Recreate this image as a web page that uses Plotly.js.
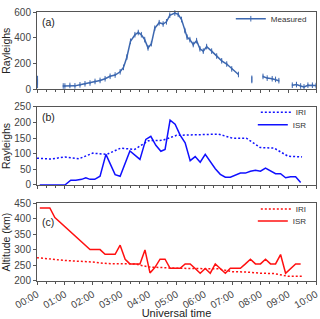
<!DOCTYPE html>
<html><head><meta charset="utf-8">
<script src="https://cdn.plot.ly/plotly-3.0.1.min.js"></script>
<style>html,body{margin:0;padding:0;background:#fff}#chart{width:320px;height:319px}</style>
</head><body><div id="chart"></div>
<script>
// Panel (a): measured brightness (hours UT, Rayleighs), null = data gap
var measTime = [0.02, 0.50, 0.94, 1.00, 1.18, 1.36, 1.54, 1.72, 1.90, 2.08, 2.26, 2.44, 2.62, 2.80, 2.98, 3.10, 3.22, 3.35, 3.51, 3.63, 3.74, 3.86, 3.98, 4.10, 4.22, 4.38, 4.52, 4.64, 4.76, 4.94, 5.06, 5.18, 5.30, 5.38, 5.48, 5.60, 5.72, 5.84, 5.96, 6.08, 6.26, 6.44, 6.62, 6.80, 6.98, 7.22, 7.45, 7.70, 7.90, 8.10, 8.25, 8.43, 8.55, 8.67, 8.90, 9.15, 9.30, 9.45, 9.57, 9.71, 9.87, 10.00];
var measValue = [58, null, 27, 27, 31, 28, 36, 44, 50, 62, 70, 83, 102, 112, 137, 171, 250, 373, 424, 441, 424, 386, 322, 355, 474, 517, 507, 524, 575, 592, 582, 542, 456, 405, 386, 348, 378, 315, 297, 332, 297, 259, 222, 197, 159, 116, null, 78, null, 101, 88, 83, 78, 68, null, 33, 38, 27, 20, 33, 33, 30];
var measError = [48, 0, 8, 8, 8, 8, 8, 8, 8, 8, 8, 8, 8, 8, 8, 8, 10, 10, 10, 10, 10, 10, 10, 10, 10, 10, 10, 10, 10, 10, 10, 10, 12, 12, 12, 12, 12, 12, 12, 12, 10, 10, 10, 10, 10, 8, 0, 30, 0, 8, 8, 8, 8, 8, 0, 8, 18, 8, 8, 8, 8, 8];

// Panel (b): brightness, IRI model vs ISR
var iriTimeB = [0.0, 0.5, 1.0, 1.5, 2.0, 2.5, 3.0, 3.5, 4.0, 4.5, 5.0, 5.5, 6.0, 6.5, 7.0, 7.5, 8.0, 8.5, 9.0, 9.5];
var iriBright = [86, 83, 90, 84, 102, 98, 118, 114, 142, 143, 159, 161, 161, 163, 150, 150, 120, 118, 92, 90];
var isrTimeB = [0.10, 1.00, 1.21, 1.39, 1.60, 1.75, 1.90, 2.07, 2.26, 2.47, 2.80, 2.98, 3.33, 3.51, 3.69, 3.90, 4.08, 4.26, 4.44, 4.59, 4.77, 4.95, 5.13, 5.31, 5.49, 5.67, 5.85, 6.03, 6.21, 6.39, 6.57, 6.75, 6.93, 7.11, 7.29, 7.47, 7.65, 7.83, 8.01, 8.19, 8.37, 8.55, 8.73, 8.91, 9.09, 9.27, 9.45];
var isrBright = [0, 0, 15, 15, 18, 23, 18, 18, 28, 98, 33, 28, 109, 96, 82, 146, 156, 127, 108, 114, 208, 195, 160, 135, 78, 91, 73, 98, 75, 52, 34, 25, 25, 31, 38, 38, 44, 47, 44, 54, 45, 36, 36, 23, 26, 26, 8];

// Panel (c): altitude (km), IRI model vs ISR
var iriTimeC = [0.0, 1.0, 2.0, 2.5, 3.5, 4.0, 5.0, 6.0, 6.5, 7.0, 7.5, 8.0, 8.5, 9.0, 9.5];
var iriAlt = [275, 266, 261, 256, 255, 245, 241, 240, 239, 230, 229, 225, 224, 215, 215];
var isrTimeC = [0.10, 0.46, 0.64, 1.90, 2.26, 2.44, 2.80, 2.98, 3.16, 3.33, 3.69, 3.87, 4.05, 4.23, 4.41, 4.59, 4.77, 5.13, 5.31, 5.49, 5.67, 5.85, 6.03, 6.21, 6.39, 6.57, 6.75, 6.93, 7.29, 7.47, 7.65, 7.83, 8.01, 8.19, 8.37, 8.55, 8.73, 8.91, 9.09, 9.27, 9.45];
var isrAlt = [435, 435, 404, 301, 301, 286, 286, 315, 270, 255, 255, 300, 226, 244, 270, 270, 241, 241, 255, 255, 240, 225, 240, 225, 255, 241, 225, 241, 241, 255, 270, 255, 255, 270, 255, 255, 285, 225, 241, 255, 255];

var hourTicks = [0, 1, 2, 3, 4, 5, 6, 7, 8, 9, 10];
var hourLabels = ['00:00', '01:00', '02:00', '03:00', '04:00', '05:00', '06:00', '07:00', '08:00', '09:00', '10:00'];

var FONT = 'Liberation Sans, Arial, sans-serif';
var AX = '#555';
function xax(anchor, labels) {
  return {
    anchor: anchor, range: [0, 10], tickmode: 'array', tickvals: hourTicks, ticktext: hourLabels,
    showticklabels: labels, tickangle: -30, ticks: 'outside', ticklen: 3, tickcolor: AX,
    minor: {tickmode: 'linear', tick0: 0, dtick: 1/3, ticks: 'outside', ticklen: 2, tickcolor: AX},
    showline: true, linecolor: AX, linewidth: 1, mirror: true, showgrid: false, zeroline: false,
    tickfont: {size: 10, color: '#444', family: FONT},
    title: labels ? {text: 'Universal time', font: {size: 11, color: '#222', family: FONT}, standoff: 4} : {text: ''}
  };
}
function yax(anchor, dom, range, dtick, title) {
  return {
    anchor: anchor, domain: dom, range: range, dtick: dtick, ticks: 'outside', ticklen: 3, tickcolor: AX,
    showline: true, linecolor: AX, linewidth: 1, mirror: true, showgrid: false, zeroline: false,
    tickfont: {size: 10, color: '#444', family: FONT},
    title: {text: title, font: {size: 10.5, color: '#222', family: FONT}, standoff: 3}
  };
}

var BLUE = '#1010ff', RED = '#ff1010', STEEL = '#3d68b0';
var traces = [
  {x: measTime, y: measValue, xaxis: 'x', yaxis: 'y', type: 'scatter', mode: 'lines+markers', name: 'Measured',
   line: {color: STEEL, width: 1.5}, cliponaxis: false,
   marker: {symbol: 'line-ns-open', size: 4, color: STEEL, line: {color: STEEL, width: 1}},
   error_y: {type: 'data', array: measError, visible: true, color: STEEL, thickness: 1, width: 0},
   legend: 'legend'},
  {x: iriTimeB, y: iriBright, xaxis: 'x2', yaxis: 'y2', type: 'scatter', mode: 'lines', name: 'IRI',
   line: {color: BLUE, width: 1.5, dash: '2px,2px'}, legend: 'legend2'},
  {x: isrTimeB, y: isrBright, xaxis: 'x2', yaxis: 'y2', type: 'scatter', mode: 'lines', name: 'ISR',
   line: {color: BLUE, width: 1.5}, legend: 'legend3'},
  {x: iriTimeC, y: iriAlt, xaxis: 'x3', yaxis: 'y3', type: 'scatter', mode: 'lines', name: 'IRI',
   line: {color: RED, width: 1.5, dash: '2px,2px'}, legend: 'legend4'},
  {x: isrTimeC, y: isrAlt, xaxis: 'x3', yaxis: 'y3', type: 'scatter', mode: 'lines', name: 'ISR',
   line: {color: RED, width: 1.5}, legend: 'legend5'}
];

function leg(y) {
  return {x: 0.985, y: y, xanchor: 'right', yanchor: 'middle', bgcolor: 'rgba(0,0,0,0)',
          font: {size: 8, color: '#333', family: FONT}, itemwidth: 30};
}

var layout = {
  width: 320, height: 319,
  margin: {l: 37, r: 4, t: 5, b: 38},
  paper_bgcolor: '#fff', plot_bgcolor: '#fff',
  showlegend: true,
  font: {family: FONT, size: 10, color: '#333'},
  xaxis: xax('y', false),
  xaxis2: xax('y2', false),
  xaxis3: xax('y3', true),
  yaxis: yax('x', [0.712, 1], [0, 600], 200, 'Rayleighs'),
  yaxis2: yax('x2', [0.357, 0.647], [0, 250], 50, 'Rayleighs'),
  yaxis3: yax('x3', [0, 0.289], [200, 450], 50, 'Altitude (km)'),
  legend: leg(0.975),
  legend2: leg(0.627),
  legend3: leg(0.581),
  legend4: leg(0.268),
  legend5: leg(0.223),
  annotations: [
    {text: '(a)', xref: 'x domain', yref: 'y domain', x: 0.01, y: 0.98, xanchor: 'left', yanchor: 'top', showarrow: false, font: {size: 10.5, color: '#222', family: FONT}},
    {text: '(b)', xref: 'x2 domain', yref: 'y2 domain', x: 0.01, y: 0.98, xanchor: 'left', yanchor: 'top', showarrow: false, font: {size: 10.5, color: '#222', family: FONT}},
    {text: '(c)', xref: 'x3 domain', yref: 'y3 domain', x: 0.01, y: 0.86, xanchor: 'left', yanchor: 'top', showarrow: false, font: {size: 10.5, color: '#222', family: FONT}}
  ]
};

Plotly.newPlot('chart', traces, layout, {staticPlot: true, displayModeBar: false});
</script></body></html>
